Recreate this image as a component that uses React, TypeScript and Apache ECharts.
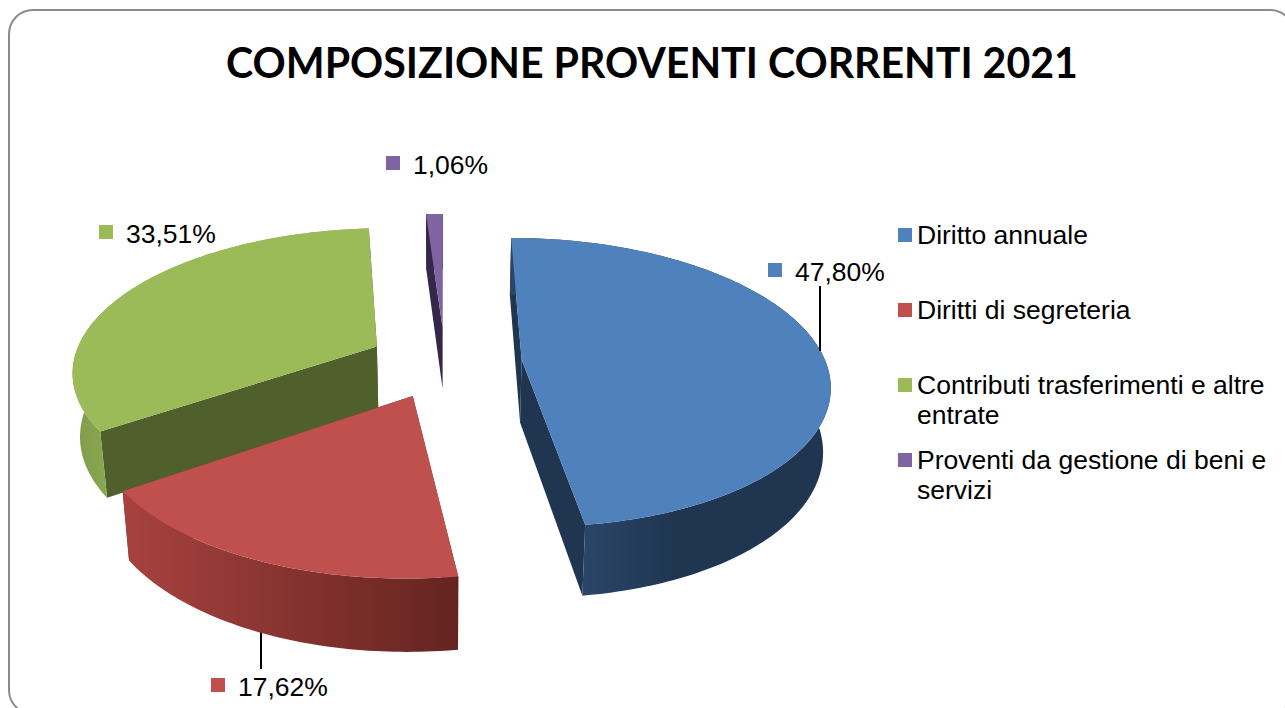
import React, { useEffect, useRef } from "react";
import * as echarts from "echarts";

const TITLE = "COMPOSIZIONE PROVENTI CORRENTI 2021";
const categories = [
  "Diritto annuale",
  "Diritti di segreteria",
  "Contributi trasferimenti e altre\nentrate",
  "Proventi da gestione di beni e\nservizi",
];
const shares = [47.8, 17.62, 33.51, 1.06];

const topColors = ["#4F81BD", "#C0504D", "#9BBB59", "#8064A2"];
const cutColors = ["#1F3550", "#6E2A27", "#50602D", "#33274A"];
const rimGradients: [number, number, string, string][] = [
  [585, 680, "#2A4568", "#1F3550"],
  [122, 459, "#A8423F", "#642421"],
  [70, 110, "#7F9B49", "#8AA750"],
  [420, 450, "#33274A", "#33274A"],
];
const labelBoxes: [number, number][] = [
  [768, 263],
  [211, 678],
  [99, 225],
  [386, 156],
];
const drawOrder = [2, 3, 0, 1];

// perspective model of the pie
const CX = 445;
const CY = 362;
const R = 304;
const TILT = 0.4658;
const PERSP = 0.00052;
const EXPLODE = 77;
const DEPTH = 63;
const SHRINK = 0.98;

const total = shares.reduce((a, b) => a + b, 0);

function project(X: number, Y: number): [number, number] {
  const s = 1 / (1 - PERSP * Y);
  return [CX + X * s, CY + TILT * Y * s];
}
function lower(X: number, Y: number): [number, number] {
  const s = 1 / (1 - PERSP * Y);
  const p = project(X, Y);
  return [CX + (p[0] - CX) * SHRINK, p[1] + DEPTH * Math.pow(s, 0.7)];
}

function makeRender(index: number) {
  return (_params: any, api: any) => {
    const value = api.value(0);
    let before = 0;
    for (let i = 0; i < index; i++) before += shares[i];
    const a0 = (before / total) * 2 * Math.PI;
    const a1 = a0 + (value / total) * 2 * Math.PI;
    const mid = (a0 + a1) / 2;
    const ox = EXPLODE * Math.sin(mid);
    const oy = -EXPLODE * Math.cos(mid);

    const rim: [number, number][] = [];
    const steps = Math.max(4, Math.ceil(((a1 - a0) * 180) / Math.PI));
    for (let k = 0; k <= steps; k++) {
      const a = a0 + ((a1 - a0) * k) / steps;
      rim.push([ox + R * Math.sin(a), oy - R * Math.cos(a)]);
    }
    const topRim = rim.map((p) => project(p[0], p[1]));
    const lowRim = rim.map((p) => lower(p[0], p[1]));
    const apexTop = project(ox, oy);
    const apexLow = lower(ox, oy);
    const g = rimGradients[index];
    const rimFill = new echarts.graphic.LinearGradient(
      g[0], 0, g[1], 0,
      [{ offset: 0, color: g[2] }, { offset: 1, color: g[3] }],
      true
    );
    const cut = cutColors[index];
    const poly = (points: [number, number][], fill: any) => ({
      type: "polygon",
      shape: { points },
      style: { fill, stroke: "none" },
    });
    return {
      type: "group",
      children: [
        poly([apexTop, topRim[0], lowRim[0], apexLow], cut),
        poly([apexTop, topRim[steps], lowRim[steps], apexLow], cut),
        poly([...topRim, ...lowRim.slice().reverse()], rimFill),
        poly([apexTop, ...topRim], topColors[index]),
      ],
    };
  };
}

const fmt = (v: number) => v.toFixed(2).replace(".", ",") + "%";
const FONT = '"Liberation Sans", Arial, sans-serif';

export default function App() {
  const ref = useRef<HTMLDivElement>(null);
  useEffect(() => {
    document.body.style.margin = "0";
    document.body.style.overflow = "hidden";
    const chart = echarts.init(ref.current!, null, { renderer: "svg" });
    const graphics: any[] = [
      {
        type: "rect",
        z: -1,
        shape: { x: 9, y: 10, width: 1285, height: 704, r: 24 },
        style: { fill: "#fff", stroke: "#8C8C8C", lineWidth: 2 },
      },
      {
        type: "line",
        z: 5,
        shape: { x1: 820, y1: 286, x2: 820, y2: 351 },
        style: { stroke: "#000", lineWidth: 2 },
      },
      {
        type: "line",
        z: 5,
        shape: { x1: 261, y1: 632, x2: 261, y2: 669 },
        style: { stroke: "#000", lineWidth: 2 },
      },
    ];
    shares.forEach((v, i) => {
      const [x, y] = labelBoxes[i];
      graphics.push({
        type: "rect",
        z: 5,
        shape: { x, y, width: 14, height: 14 },
        style: { fill: topColors[i] },
      });
      graphics.push({
        type: "text",
        z: 5,
        style: {
          x: x + 27,
          y: y + 8.5,
          text: fmt(v),
          fill: "#000",
          font: `26.5px ${FONT}`,
          textVerticalAlign: "middle",
          verticalAlign: "middle",
        },
      });
    });
    chart.setOption({
      animation: false,
      backgroundColor: "#fff",
      title: {
        text: TITLE,
        left: 647,
        top: 36,
        textAlign: "center",
        textStyle: {
          fontFamily: "Lato",
          fontWeight: "bold",
          fontSize: 41.1,
          color: "#000",
        },
      },
      color: topColors,
      legend: {
        orient: "vertical",
        left: 893,
        top: 185,
        itemWidth: 14,
        itemHeight: 14,
        itemGap: -15,
        icon: "rect",
        data: categories,
        selectedMode: false,
        formatter: (name: string) =>
          name.includes("\n") ? `\n${name}` : `\n${name}\n`,
        textStyle: {
          fontFamily: FONT,
          fontSize: 26.5,
          lineHeight: 30,
          color: "#000",
        },
      },
      graphic: graphics,
      series: drawOrder.map((i, order) => ({
        type: "custom",
        name: categories[i],
        coordinateSystem: "none",
        z: 2 + order,
        silent: true,
        itemStyle: { color: topColors[i] },
        data: [shares[i]],
        renderItem: makeRender(i),
      })),
    });
    return () => chart.dispose();
  }, []);
  return <div ref={ref} style={{ width: 1285, height: 708 }} />;
}
